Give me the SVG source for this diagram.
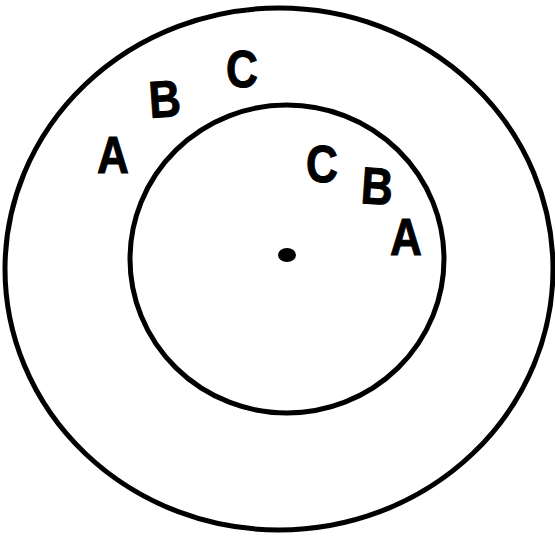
<svg xmlns="http://www.w3.org/2000/svg" width="555" height="537" viewBox="0 0 555 537">
<style>
.ring{fill:none;stroke:#000;stroke-width:5}
.lbl{font-family:"Liberation Sans",Arial,sans-serif;font-weight:bold;font-size:52px;fill:#000;stroke:#000;stroke-width:1;text-anchor:middle}
</style>
<rect width="555" height="537" fill="#fff"/>
<g id="outer-circle"><ellipse class="ring" cx="279" cy="269" rx="274" ry="261"/></g>
<g id="inner-circle"><ellipse class="ring" cx="287" cy="259" rx="157" ry="154"/></g>
<g id="center-dot"><ellipse cx="287" cy="255" rx="9" ry="7" fill="#000"/></g>
<g id="outer-labels">
<text class="lbl" transform="translate(113,173) scale(0.85,1)">A</text>
<text class="lbl" transform="translate(166,117) rotate(-4) scale(0.85,1)">B</text>
<text class="lbl" transform="translate(242,87) scale(0.85,1)">C</text>
</g>
<g id="inner-labels">
<text class="lbl" transform="translate(322,182) scale(0.85,1)">C</text>
<text class="lbl" transform="translate(376,204) rotate(4) scale(0.85,1)">B</text>
<text class="lbl" transform="translate(406,255) scale(0.85,1)">A</text>
</g>
</svg>
